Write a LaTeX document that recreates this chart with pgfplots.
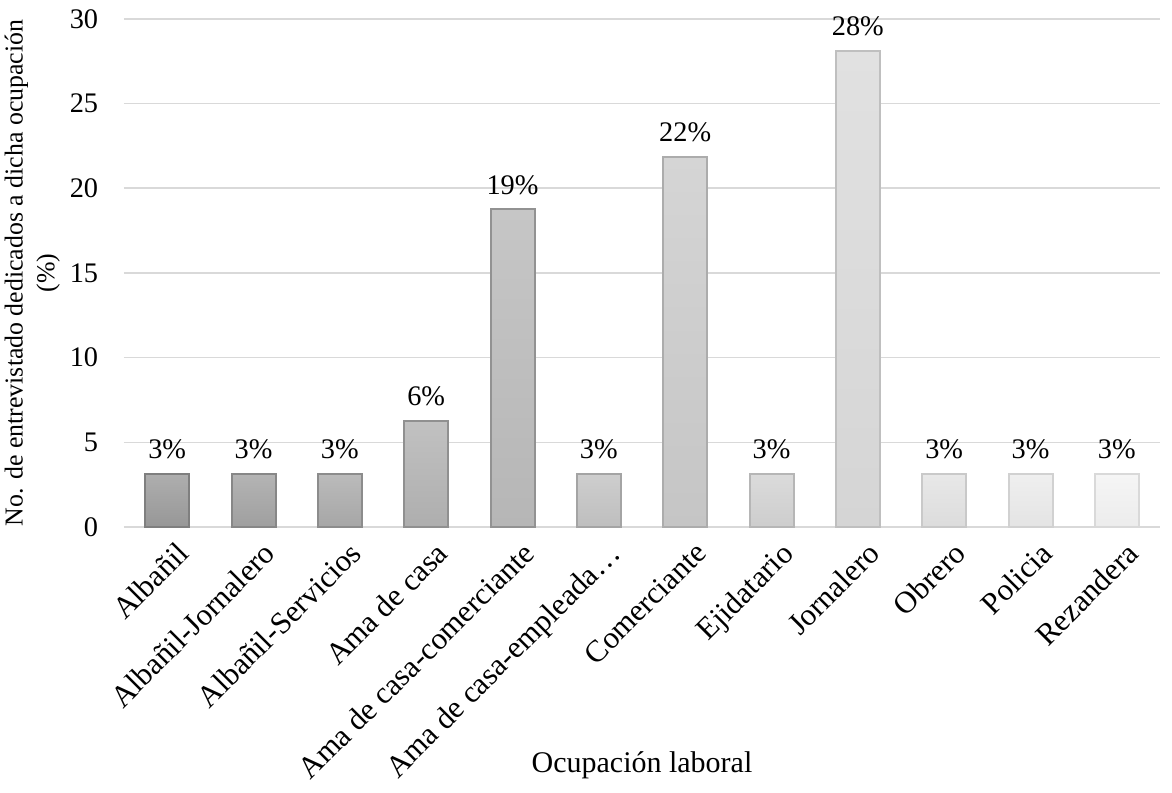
\documentclass[border=0pt]{standalone}
\usepackage{pgfplots}
\pgfplotsset{compat=1.18}
\usepackage{fontspec}
\setmainfont{Liberation Serif}

% bar shades, dark on the left to light on the right (top, bottom, edge)
\definecolor{t1}{HTML}{AEAEAE}\definecolor{b1}{HTML}{979797}\definecolor{e1}{HTML}{7F7F7F}
\definecolor{t2}{HTML}{B4B4B4}\definecolor{b2}{HTML}{9F9F9F}\definecolor{e2}{HTML}{878787}
\definecolor{t3}{HTML}{BBBBBB}\definecolor{b3}{HTML}{A6A6A6}\definecolor{e3}{HTML}{8C8C8C}
\definecolor{t4}{HTML}{C1C1C1}\definecolor{b4}{HTML}{AEAEAE}\definecolor{e4}{HTML}{909090}
\definecolor{t5}{HTML}{C6C6C6}\definecolor{b5}{HTML}{B6B6B6}\definecolor{e5}{HTML}{929292}
\definecolor{t6}{HTML}{CECECE}\definecolor{b6}{HTML}{BEBEBE}\definecolor{e6}{HTML}{A4A4A4}
\definecolor{t7}{HTML}{D5D5D5}\definecolor{b7}{HTML}{C5C5C5}\definecolor{e7}{HTML}{ACACAC}
\definecolor{t8}{HTML}{DBDBDB}\definecolor{b8}{HTML}{CDCDCD}\definecolor{e8}{HTML}{B6B6B6}
\definecolor{t9}{HTML}{E1E1E1}\definecolor{b9}{HTML}{D5D5D5}\definecolor{e9}{HTML}{BFBFBF}
\definecolor{t10}{HTML}{E8E8E8}\definecolor{b10}{HTML}{DCDCDC}\definecolor{e10}{HTML}{C9C9C9}
\definecolor{t11}{HTML}{EFEFEF}\definecolor{b11}{HTML}{E4E4E4}\definecolor{e11}{HTML}{D1D1D1}
\definecolor{t12}{HTML}{F5F5F5}\definecolor{b12}{HTML}{ECECEC}\definecolor{e12}{HTML}{D9D9D9}
\definecolor{gridgray}{HTML}{D9D9D9}

\newcommand{\chartfont}{\fontsize{17}{20}\selectfont}

\begin{document}
\begin{tikzpicture}
\begin{axis}[
  name=ax,
  scale only axis,
  width=621.6pt, height=304.8pt,
  ymin=0, ymax=30, ytick={0,5,...,30},
  xmin=-0.5, xmax=11.5,
  xtick={0,...,11},
  xticklabels={Albañil,Albañil-Jornalero,Albañil-Servicios,Ama de casa,Ama de casa-comerciante,Ama de casa-empleada\dots,Comerciante,Ejidatario,Jornalero,Obrero,Policia,Rezandera},
  tick label style={font=\chartfont},
  x tick label style={font=\fontsize{18.5}{22}\selectfont, rotate=45, anchor=north east, inner sep=1pt, xshift=-1pt, yshift=-8pt},
  y tick label style={xshift=-12pt},
  ymajorgrids, grid style={gridgray, line width=1pt},
  axis line style={draw=none},
  axis x line*=bottom, axis y line*=left,
  major tick length=0pt,
  /pgf/number format/assume math mode=true,
  xlabel={Ocupación laboral},
  ylabel={No. de entrevistado dedicados a dicha ocupación\\(\%)},
  xlabel style={font=\fontsize{18}{21}\selectfont, at={(axis description cs:0.5,0)}, anchor=center, yshift=-143pt},
  ylabel style={font=\fontsize{15.5}{19}\selectfont, align=center, at={(axis description cs:0,0.5)}, anchor=center, yshift=55pt},
  ybar, bar width=26.4pt, bar shift=0pt,
  nodes near coords={\pgfmathprintnumber[fixed,precision=0]{\pgfplotspointmeta}\%},
  nodes near coords style={font=\chartfont, yshift=5pt},
  every axis plot/.append style={line width=1.2pt},
]
\addplot[draw=e1, top color=t1, bottom color=b1] coordinates {(0,3.125)};
\addplot[draw=e2, top color=t2, bottom color=b2] coordinates {(1,3.125)};
\addplot[draw=e3, top color=t3, bottom color=b3] coordinates {(2,3.125)};
\addplot[draw=e4, top color=t4, bottom color=b4] coordinates {(3,6.25)};
\addplot[draw=e5, top color=t5, bottom color=b5] coordinates {(4,18.75)};
\addplot[draw=e6, top color=t6, bottom color=b6] coordinates {(5,3.125)};
\addplot[draw=e7, top color=t7, bottom color=b7] coordinates {(6,21.875)};
\addplot[draw=e8, top color=t8, bottom color=b8] coordinates {(7,3.125)};
\addplot[draw=e9, top color=t9, bottom color=b9] coordinates {(8,28.125)};
\addplot[draw=e10, top color=t10, bottom color=b10] coordinates {(9,3.125)};
\addplot[draw=e11, top color=t11, bottom color=b11] coordinates {(10,3.125)};
\addplot[draw=e12, top color=t12, bottom color=b12] coordinates {(11,3.125)};
\end{axis}
% picture frame with the margins around the plot area
\pgfresetboundingbox
\path[use as bounding box] ([xshift=-74.4pt,yshift=-159.6pt]ax.south west)
  rectangle ([xshift=7.2pt,yshift=11.4pt]ax.north east);
\end{tikzpicture}
\end{document}
